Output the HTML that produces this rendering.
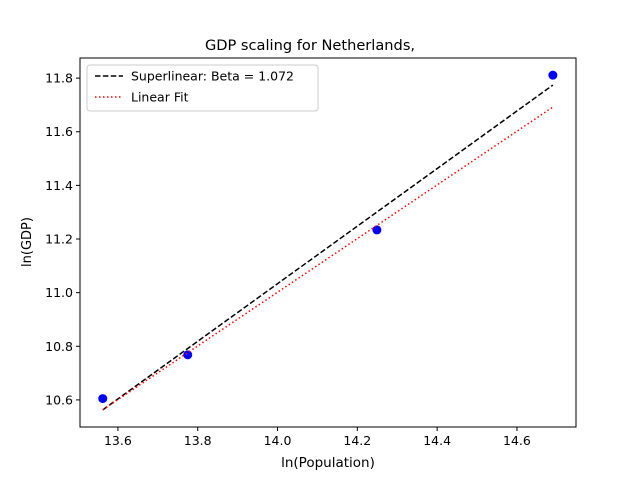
<!DOCTYPE html>
<html><head><meta charset="utf-8"><style>
body{margin:0;background:#fff;}
svg{display:block;font-family:"DejaVu Sans","Liberation Sans",sans-serif;}
</style></head><body>
<svg id="chart" width="640" height="480">
<rect x="0" y="0" width="640" height="480" fill="#fff"/>
<text x="310" y="50" font-size="14.6" text-anchor="middle">GDP scaling for Netherlands,</text>
<g id="plot"></g>
<rect x="80" y="58" width="496" height="369" fill="none" stroke="#000" stroke-width="1"/>
<text x="328" y="467" font-size="13.5" text-anchor="middle">ln(Population)</text>
<text x="31" y="242" font-size="13" text-anchor="middle" transform="rotate(-90 31 242)">ln(GDP)</text>
<g>
<rect x="87" y="65" width="231" height="46" rx="3" fill="#fff" fill-opacity="0.8" stroke="#ccc"/>
<line x1="95" y1="76" x2="123" y2="76" stroke="#000" stroke-width="1.5" stroke-dasharray="5.5,2.4"/>
<text x="131" y="80.5" font-size="12.5">Superlinear: Beta = 1.072</text>
<line x1="95" y1="97" x2="123" y2="97" stroke="red" stroke-width="1.5" stroke-dasharray="1.5,2.5"/>
<text x="131" y="101.5" font-size="12.5">Linear Fit</text>
</g>
</svg>
<script>
const popX = [13.562, 13.775, 14.249, 14.690];
const gdpY = [10.605, 10.768, 11.234, 11.811];
const fitX = [13.562, 14.690];
const superY = [10.563, 11.774];
const linearY = [10.563, 11.692];
const xTicks = [13.6, 13.8, 14.0, 14.2, 14.4, 14.6];
const yTicks = [10.6, 10.8, 11.0, 11.2, 11.4, 11.6, 11.8];
const X0=80,X1=576,Y0=427,Y1=58, xmin=13.505,xmax=14.748,ymin=10.499,ymax=11.875;
const sx=v=>X0+(v-xmin)/(xmax-xmin)*(X1-X0);
const sy=v=>Y0-(v-ymin)/(ymax-ymin)*(Y0-Y1);
const NS="http://www.w3.org/2000/svg";
const g=document.getElementById('plot');
function mk(t,a){const e=document.createElementNS(NS,t);for(const k in a)e.setAttribute(k,a[k]);g.appendChild(e);return e;}
xTicks.forEach(t=>{
 const l=mk('line',{x1:sx(t),x2:sx(t),y1:Y0,y2:Y0+4,stroke:'#000'});
 
 
 const tx=mk('text',{x:sx(t),y:Y0+18,'font-size':12.5,'text-anchor':'middle'});tx.textContent=t.toFixed(1);
 
 
});
yTicks.forEach(t=>{
 const l=mk('line',{x1:X0-4,x2:X0,y1:sy(t),y2:sy(t),stroke:'#000'});
 
 
 const tx=mk('text',{x:X0-7,y:sy(t)+4.5,'font-size':12.5,'text-anchor':'end'});tx.textContent=t.toFixed(1);
 
 
});
popX.forEach((x,i)=>{
 const c=mk('circle',{cx:sx(x),cy:sy(gdpY[i]),r:4.5,fill:'blue'});
 
 
});
const s=mk('line',{x1:sx(fitX[0]),y1:sy(superY[0]),x2:sx(fitX[1]),y2:sy(superY[1]),stroke:'#000','stroke-width':1.5,'stroke-dasharray':'5.5,2.4'});


const lf=mk('line',{x1:sx(fitX[0]),y1:sy(linearY[0]),x2:sx(fitX[1]),y2:sy(linearY[1]),stroke:'red','stroke-width':1.5,'stroke-dasharray':'1.5,2.5'});


</script>
</body></html>
